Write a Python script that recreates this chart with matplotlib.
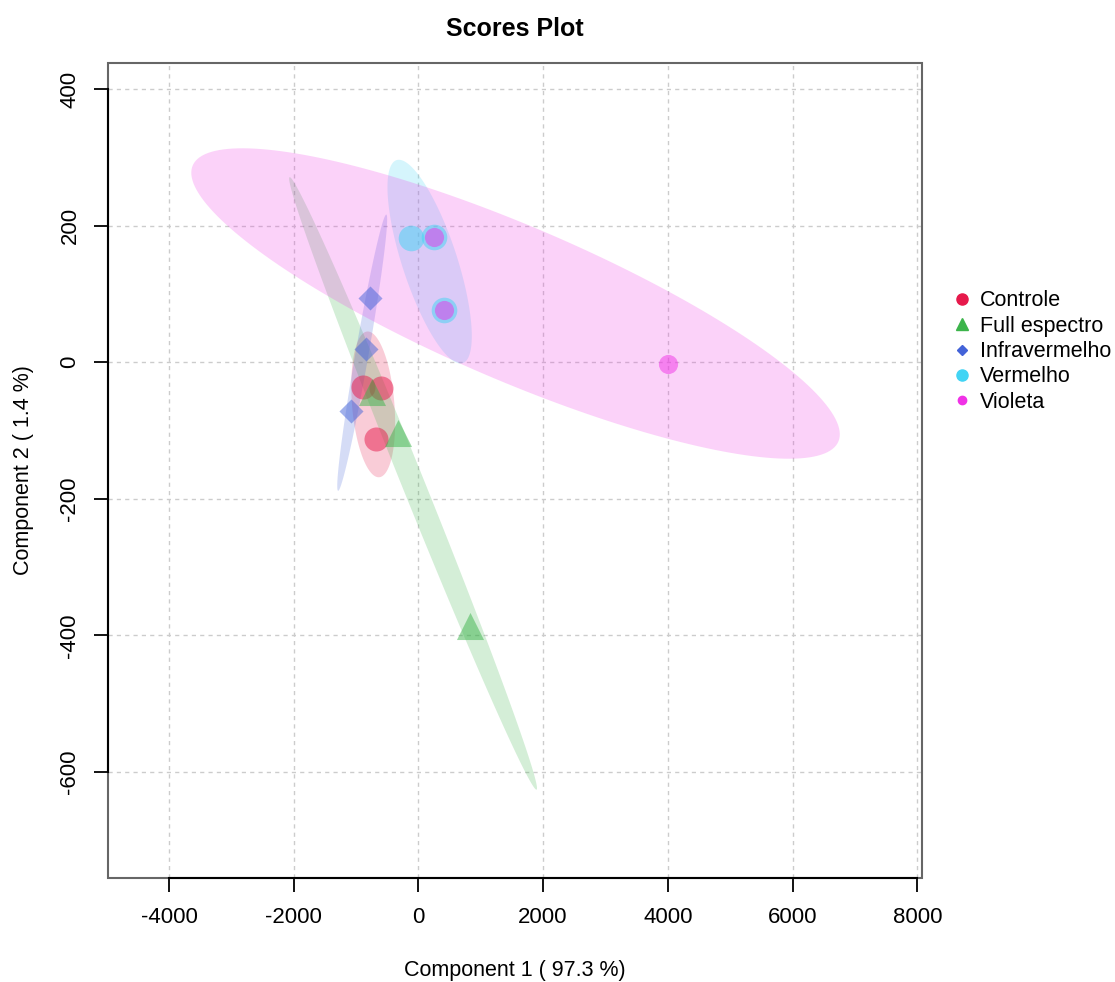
import numpy as np
import matplotlib.pyplot as plt
from matplotlib.lines import Line2D
from matplotlib.patches import Rectangle

plt.rcParams['font.family'] = ['Liberation Sans', 'DejaVu Sans']
plt.rcParams['axes.unicode_minus'] = False

# PCA scores, component 1 / component 2
groups = ["Controle", "Full espectro", "Infravermelho", "Vermelho", "Violeta"]
colors = ["#e6194b", "#3cb44b", "#4363d8", "#42d4f4", "#f032e6"]
markers = ["o", "^", "D", "o", "o"]
msizes = [300, 380, 150, 340, 190]

pc1 = {
    "Controle": [-884, -605, -685],
    "Full espectro": [-749, -327, 820],
    "Infravermelho": [-776, -841, -1086],
    "Vermelho": [-124, 250, 415],
    "Violeta": [250, 415, 4009],
}
pc2 = {
    "Controle": [-36, -37, -112],
    "Full espectro": [-43, -103, -386],
    "Infravermelho": [94, 19, -71],
    "Vermelho": [182, 183, 77],
    "Violeta": [183, 77, -2],
}

xticks = [-4000, -2000, 0, 2000, 4000, 6000, 8000]
yticks = [-600, -400, -200, 0, 200, 400]


def conf_ellipse(x, y, level=0.95, n=200):
    # same as ellipse::ellipse(cov, centre, level) used by R
    pts = np.column_stack([x, y]).astype(float)
    mu = pts.mean(axis=0)
    cov = np.cov(pts, rowvar=False)
    t = np.sqrt(-2 * np.log(1 - level))
    vals, vecs = np.linalg.eigh(cov)
    a = np.linspace(0, 2 * np.pi, n)
    circ = np.column_stack([np.cos(a), np.sin(a)])
    xy = circ * (t * np.sqrt(np.maximum(vals, 0))) @ vecs.T + mu
    return xy[:, 0], xy[:, 1]


fig = plt.figure(figsize=(11.15, 9.82), dpi=100)
ax = fig.add_axes([0.0971, 0.1062, 0.7301, 0.8300])

ax.set_xlim(-4973, 8081)
ax.set_ylim(-754.6, 438.6)

ax.grid(True, color="#cccccc", linestyle=(0, (3, 3)), linewidth=1.0)
ax.set_axisbelow(True)

for g, c in zip(groups, colors):
    ex, ey = conf_ellipse(pc1[g], pc2[g])
    ax.fill(ex, ey, color=c, alpha=0.22, linewidth=0, zorder=1)

for g, c, m, s in zip(groups, colors, markers, msizes):
    ax.scatter(pc1[g], pc2[g], s=s, marker=m, color=c, alpha=0.5,
               linewidths=0, zorder=3)

ax.set_xticks(xticks)
ax.set_yticks(yticks)
ax.tick_params(axis="both", direction="out", length=10, width=1.3,
               labelsize=16, color="black")
ax.tick_params(axis="x", pad=11)
ax.tick_params(axis="y", pad=10)
for lab in ax.get_yticklabels():
    lab.set_rotation(90)
    lab.set_va("center")

# box in grey, axis lines in black between outer ticks
for side in ["top", "right", "left", "bottom"]:
    ax.spines[side].set_visible(False)
ax.add_patch(Rectangle((0, 0), 1, 1, transform=ax.transAxes, fill=False,
                       edgecolor="#666666", linewidth=1.5, zorder=5,
                       clip_on=False))
ax.spines["bottom"].set_visible(True)
ax.spines["left"].set_visible(True)
ax.spines["bottom"].set_bounds(xticks[0], xticks[-1])
ax.spines["left"].set_bounds(yticks[0], yticks[-1])
ax.spines["bottom"].set_color("black")
ax.spines["left"].set_color("black")
ax.spines["bottom"].set_linewidth(1.5)
ax.spines["left"].set_linewidth(1.5)
ax.spines["bottom"].set_zorder(6)
ax.spines["left"].set_zorder(6)

ax.set_title("Scores Plot", fontsize=18, fontweight="bold", pad=19)
ax.set_xlabel("Component 1 ( 97.3 %)", fontsize=15.5, labelpad=23)
ax.set_ylabel("Component 2 ( 1.4 %)", fontsize=15.5, labelpad=18)

handles = [Line2D([], [], marker=m, linestyle="none", color=c,
                  markersize=ms, label=g)
           for g, c, m, ms in zip(groups, colors,
                                   ["o", "^", "D", "o", "o"],
                                   [8, 8, 5, 8, 6])]
fig.legend(handles=handles, loc="upper left",
           bbox_to_anchor=(0.847, 0.713), frameon=False, fontsize=15.5,
           handlelength=0.8, handletextpad=0.45, labelspacing=0.2,
           borderaxespad=0)

fig.savefig("out.png", dpi=100)
